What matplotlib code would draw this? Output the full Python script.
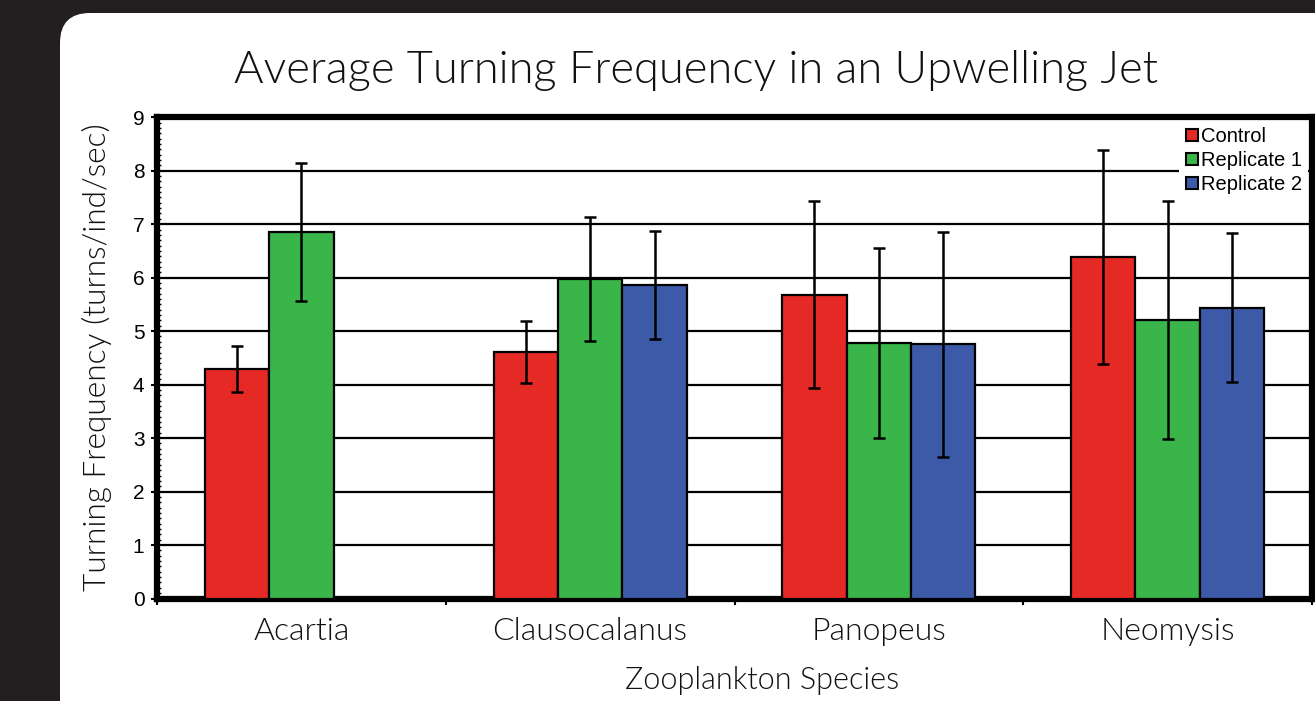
import numpy as np
import matplotlib
matplotlib.use("Agg")
import matplotlib.pyplot as plt
from matplotlib.patches import FancyBboxPatch
from matplotlib.lines import Line2D
from matplotlib.transforms import IdentityTransform

species = ["Acartia", "Clausocalanus", "Panopeus", "Neomysis"]
series = ["Control", "Replicate 1", "Replicate 2"]
control = [4.30, 4.61, 5.68, 6.38]
control_err = [0.43, 0.58, 1.75, 2.00]
rep1 = [6.85, 5.97, 4.78, 5.21]
rep1_err = [1.29, 1.16, 1.78, 2.22]
rep2 = [np.nan, 5.86, 4.75, 5.44]
rep2_err = [np.nan, 1.01, 2.10, 1.39]
colors = ["#e52a25", "#39b54a", "#3c5aa7"]

gothic = "Lato"
gw = 300
arial = "Liberation Sans"

fig = plt.figure(figsize=(13.15, 7.01), dpi=100, facecolor="#231f20")

# white rounded panel (pixel coords)
panel = FancyBboxPatch((60, -60), 1400, 748, boxstyle="round,pad=0,rounding_size=30",
                       transform=IdentityTransform(), facecolor="white", edgecolor="none", zorder=0)
fig.add_artist(panel)

ax = fig.add_axes([157 / 1315, 1 - 598.5 / 701, (1312 - 157) / 1315, (598.5 - 117.2) / 701])
ax.set_zorder(2)

x = np.arange(len(species))
w = 0.223
vals = [control, rep1, rep2]
errs = [control_err, rep1_err, rep2_err]
for i in range(3):
    xi = x + (i - 1) * w
    ax.bar(xi, vals[i], width=w, color=colors[i], edgecolor="black", linewidth=1.6, zorder=3)
    ax.errorbar(xi, vals[i], yerr=errs[i], fmt="none", ecolor="black", elinewidth=1.8,
                capsize=4, capthick=1.8, zorder=4)

ax.set_xlim(-0.5, 3.5)
ax.set_ylim(0, 9)
ax.set_yticks(range(10))
ax.set_yticks(np.arange(0, 9.01, 0.1), minor=True)
ax.set_xticks(x)
ax.set_xticklabels(species, fontfamily=gothic, fontweight=gw, fontsize=23, color="#111111")
ax.set_xticks(np.arange(-0.5, 4, 1), minor=True)
ax.tick_params(axis="x", which="major", length=0, pad=13)
ax.tick_params(axis="x", which="minor", direction="out", length=4, width=1.5)
ax.tick_params(axis="y", which="major", direction="out", length=4, width=1.5, labelsize=15, pad=5)
ax.tick_params(axis="y", which="minor", direction="in", length=3, width=1)
for lab in ax.get_yticklabels():
    lab.set_fontfamily(arial)

ax.yaxis.grid(True, which="major", color="black", linewidth=1.6)
ax.set_axisbelow(True)
for s in ax.spines.values():
    s.set_linewidth(4.5)

handles = [Line2D([], [], linestyle="none", marker="s", markersize=9, markerfacecolor=c,
                  markeredgecolor="black", markeredgewidth=1.5) for c in colors]
leg = ax.legend(handles, series, loc="upper right", bbox_to_anchor=(1.0, 1.0),
                prop={"family": arial, "size": 14.5}, frameon=True, fancybox=False,
                edgecolor="none", facecolor="white", framealpha=1,
                handletextpad=0.1, labelspacing=0.25, borderpad=0.3, borderaxespad=0.2,
                handlelength=0.7)
leg.set_zorder(5)

fig.text(696 / 1315, 1 - 83 / 701, "Average Turning Frequency in an Upwelling Jet",
         ha="center", va="baseline", fontsize=32.5, fontfamily=gothic, fontweight=gw,
         color="#111111")
fig.text(97 / 1315, 1 - 357 / 701, "Turning Frequency (turns/ind/sec)", rotation=90,
         ha="center", va="center", fontsize=22.8, fontfamily=gothic, fontweight=gw,
         color="#111111")
fig.text(762 / 1315, 1 - 689 / 701, "Zooplankton Species", ha="center", va="baseline",
         fontsize=22, fontfamily=gothic, fontweight=gw, color="#111111")

fig.savefig("out.png", dpi=100, facecolor=fig.get_facecolor())
